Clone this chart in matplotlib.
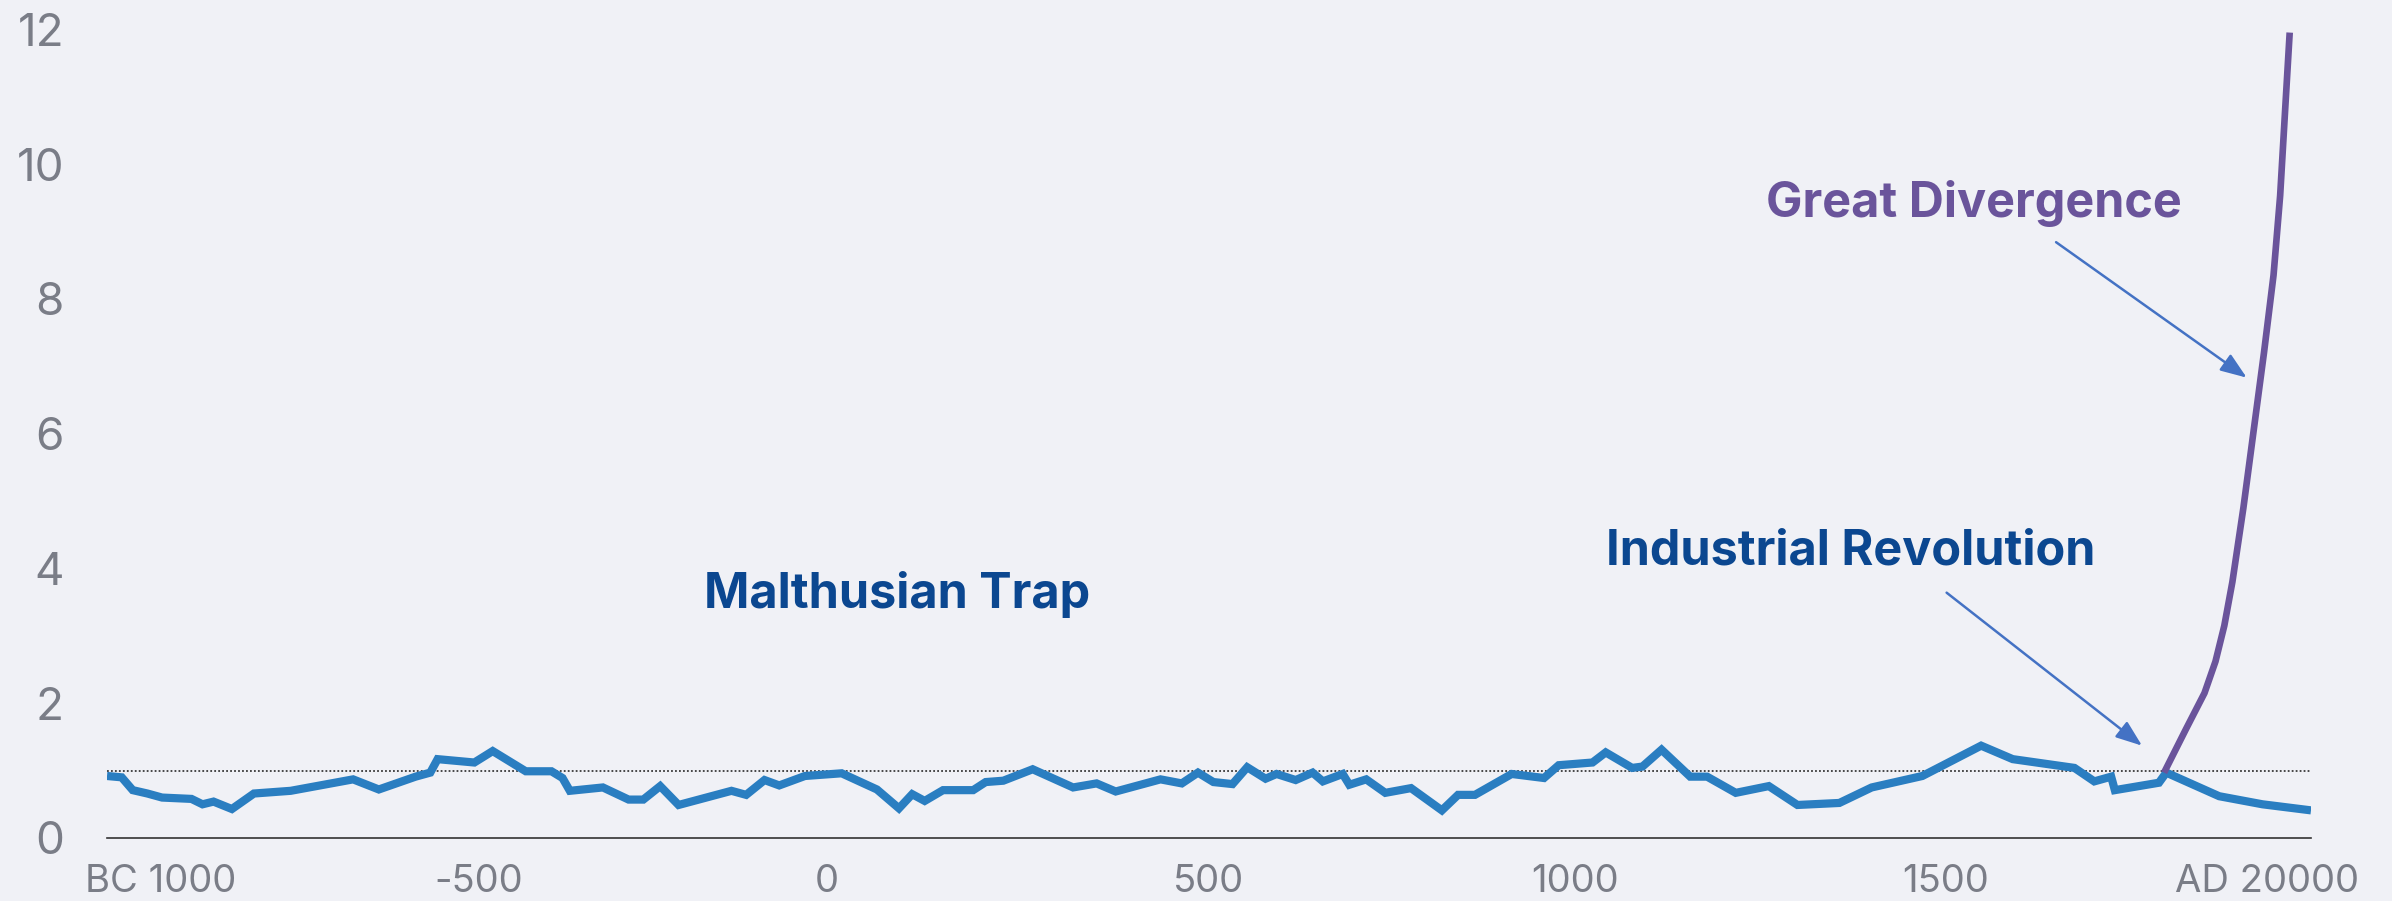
import matplotlib
matplotlib.use("Agg")
import matplotlib.pyplot as plt

# ---- data ----
blue_years = [-1000, -980, -965, -945, -925, -885, -870, -855, -830, -800, -750, -665, -630,
              -580, -560, -550, -500, -475, -430, -395, -380, -370, -325, -290, -270, -247,
              -222, -150, -130, -105, -85, -50, 0, 48, 78, 96, 113, 138, 179, 196, 220, 260,
              315, 347, 373, 434, 463, 485, 506, 532, 552, 577, 592, 618, 641, 655, 682, 691,
              714, 740, 775, 817, 839, 862, 912, 956, 976, 1022, 1040, 1076, 1090, 1116, 1155,
              1178, 1217, 1262, 1301, 1358, 1402, 1471, 1551, 1594, 1678, 1705, 1728, 1733,
              1793, 1803, 1875, 1934, 2000]
blue_values = [0.92, 0.90, 0.71, 0.66, 0.60, 0.58, 0.50, 0.54, 0.43, 0.66, 0.70, 0.87, 0.72,
               0.91, 0.97, 1.17, 1.12, 1.29, 0.99, 0.99, 0.89, 0.70, 0.75, 0.57, 0.57, 0.77,
               0.49, 0.70, 0.64, 0.86, 0.78, 0.92, 0.96, 0.72, 0.44, 0.65, 0.55, 0.71, 0.71, 0.83,
               0.85, 1.02, 0.75, 0.81, 0.69, 0.87, 0.81, 0.97, 0.83, 0.80, 1.05, 0.88, 0.95,
               0.86, 0.97, 0.84, 0.95, 0.79, 0.87, 0.67, 0.74, 0.41, 0.64, 0.64, 0.95, 0.89,
               1.08, 1.12, 1.27, 1.04, 1.06, 1.31, 0.91, 0.91, 0.67, 0.77, 0.49, 0.52, 0.75,
               0.92, 1.37, 1.17, 1.04, 0.84, 0.91, 0.71, 0.82, 0.97, 0.62, 0.50, 0.41]

purple_years = [1800, 1830, 1855, 1870, 1882, 1893, 1908, 1922, 1936, 1949, 1958, 1965, 1971]
purple_values = [0.97, 1.62, 2.15, 2.62, 3.15, 3.80, 4.90, 6.05, 7.20, 8.35, 9.53, 10.84, 11.95]

reference_level = 1.0

y_ticks = [0, 2, 4, 6, 8, 10, 12]
x_tick_labels = ["BC 1000", "-500", "0", "500", "1000", "1500", "AD 20000"]
x_tick_pos = [-927, -494, -20, 499, 998, 1503, 1940]

labels = {"malthus": "Malthusian Trap", "industrial": "Industrial Revolution",
          "divergence": "Great Divergence"}

# ---- styling ----
BG = "#f0f1f6"
BLUE = "#2a7ec1"
PURPLE = "#6a549b"
NAVY = "#0b4790"
ARROW = "#4472c4"
GRAY = "#7a7d87"

fig = plt.figure(figsize=(23.92, 9.01), dpi=100, facecolor=BG)
ax = fig.add_axes([107 / 2392, 63 / 901, (2311 - 107) / 2392, (838 - 29.2) / 901])
ax.set_facecolor(BG)

ax.plot(blue_years, blue_values, color=BLUE, lw=5.9, solid_joinstyle="miter",
        solid_capstyle="butt", zorder=3)
ax.plot(purple_years, purple_values, color=PURPLE, lw=4.8, solid_joinstyle="round",
        solid_capstyle="butt", zorder=4)
ax.axhline(reference_level, color="#3a3a3a", lw=1.3, ls=(0, (1, 1.2)), zorder=2)

ax.set_xlim(-1000, 2000)
ax.set_ylim(0, 12)

for s in ["top", "right", "left"]:
    ax.spines[s].set_visible(False)
ax.spines["bottom"].set_color("#333333")
ax.spines["bottom"].set_linewidth(1.2)

ax.set_yticks(y_ticks)
ax.set_yticklabels([str(v) for v in y_ticks], fontfamily="Inter", fontsize=33, color=GRAY)
ax.tick_params(axis="y", length=0, pad=31)
ax.set_xticks(x_tick_pos)
ax.set_xticklabels(x_tick_labels, fontfamily="Inter", fontsize=27.5, color=GRAY)
ax.tick_params(axis="x", length=0, pad=18.5)

ax.text(75, 3.41, labels["malthus"], color=NAVY, fontsize=35, fontweight="bold",
        fontfamily="Inter", ha="center", va="baseline")
ax.text(1373, 4.06, labels["industrial"], color=NAVY, fontsize=35, fontweight="bold",
        fontfamily="Inter", ha="center", va="baseline")
ax.text(1541, 9.21, labels["divergence"], color=PURPLE, fontsize=35, fontweight="bold",
        fontfamily="Inter", ha="center", va="baseline")

aprops = dict(arrowstyle="-|>,head_length=0.8,head_width=0.3", color=ARROW, lw=1.8,
              mutation_scale=20, shrinkA=0, shrinkB=0)
ax.annotate("", xy=(1912.5, 6.83), xytext=(1653, 8.84), arrowprops=aprops)
ax.annotate("", xy=(1770, 1.37), xytext=(1504, 3.64), arrowprops=aprops)

fig.savefig("out.png", dpi=100, facecolor=BG)
